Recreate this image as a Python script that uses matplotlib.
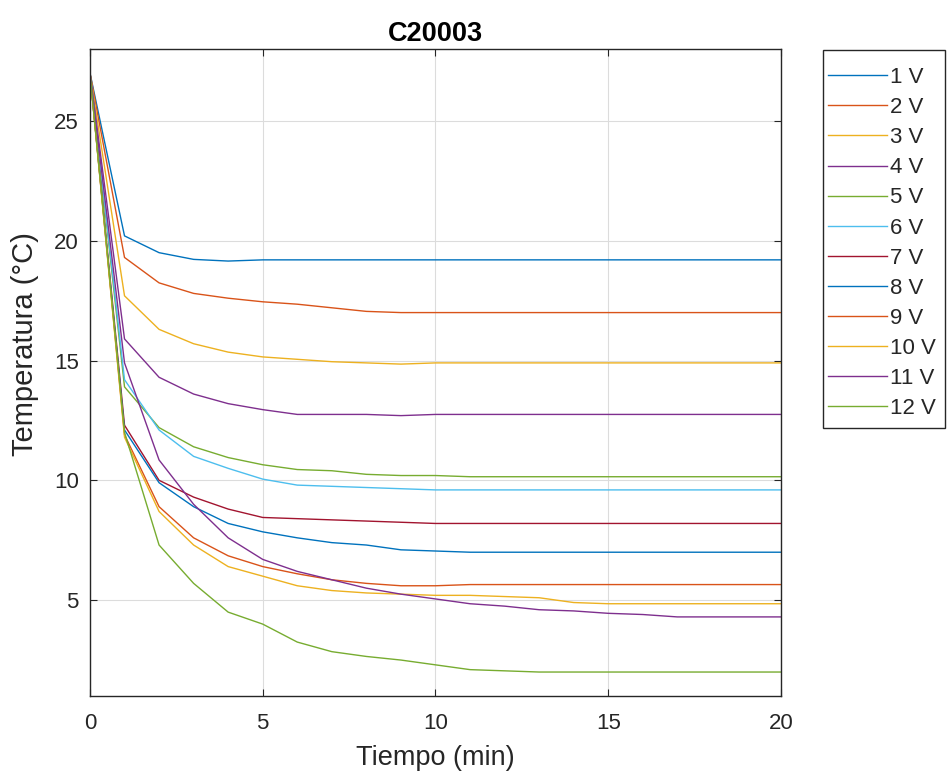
import matplotlib.pyplot as plt
from matplotlib.patches import Rectangle
import numpy as np

plt.rcParams['font.family'] = ['Liberation Sans', 'DejaVu Sans']

# time axis (min)
t = np.arange(0, 21)

# temperatures (°C), one list per voltage
v1 = [27, 20.2, 19.5, 19.22, 19.15, 19.2, 19.2, 19.2, 19.2, 19.2, 19.2,
      19.2, 19.2, 19.2, 19.2, 19.2, 19.2, 19.2, 19.2, 19.2, 19.2]
v2 = [27, 19.3, 18.24, 17.8, 17.6, 17.45, 17.35, 17.2, 17.05, 17.0, 17.0,
      17.0, 17.0, 17.0, 17.0, 17.0, 17.0, 17.0, 17.0, 17.0, 17.0]
v3 = [27, 17.7, 16.3, 15.7, 15.35, 15.15, 15.05, 14.95, 14.9, 14.85, 14.9,
      14.9, 14.9, 14.9, 14.9, 14.9, 14.9, 14.9, 14.9, 14.9, 14.9]
v4 = [27, 15.9, 14.3, 13.6, 13.2, 12.95, 12.75, 12.75, 12.75, 12.7, 12.75,
      12.75, 12.75, 12.75, 12.75, 12.75, 12.75, 12.75, 12.75, 12.75, 12.75]
v5 = [27, 13.9, 12.2, 11.4, 10.95, 10.65, 10.45, 10.4, 10.25, 10.2, 10.2,
      10.15, 10.15, 10.15, 10.15, 10.15, 10.15, 10.15, 10.15, 10.15, 10.15]
v6 = [27, 14.2, 12.1, 11.0, 10.5, 10.05, 9.8, 9.75, 9.7, 9.65, 9.6,
      9.6, 9.6, 9.6, 9.6, 9.6, 9.6, 9.6, 9.6, 9.6, 9.6]
v7 = [27, 12.3, 10.0, 9.3, 8.8, 8.45, 8.4, 8.35, 8.3, 8.25, 8.2,
      8.2, 8.2, 8.2, 8.2, 8.2, 8.2, 8.2, 8.2, 8.2, 8.2]
v8 = [27, 12.1, 9.9, 8.9, 8.2, 7.85, 7.6, 7.4, 7.3, 7.1, 7.05,
      7.0, 7.0, 7.0, 7.0, 7.0, 7.0, 7.0, 7.0, 7.0, 7.0]
v9 = [27, 11.9, 8.9, 7.6, 6.85, 6.4, 6.1, 5.85, 5.7, 5.6, 5.6,
      5.65, 5.65, 5.65, 5.65, 5.65, 5.65, 5.65, 5.65, 5.65, 5.65]
v10 = [27, 11.8, 8.7, 7.3, 6.4, 6.0, 5.6, 5.4, 5.3, 5.25, 5.2,
       5.2, 5.15, 5.1, 4.9, 4.85, 4.85, 4.85, 4.85, 4.85, 4.85]
v11 = [27, 14.9, 10.85, 9.0, 7.6, 6.7, 6.2, 5.85, 5.5, 5.25, 5.05,
       4.85, 4.75, 4.6, 4.55, 4.45, 4.4, 4.3, 4.3, 4.3, 4.3]
v12 = [27, 12.0, 7.3, 5.7, 4.5, 4.0, 3.25, 2.85, 2.65, 2.5, 2.3,
       2.1, 2.05, 2.0, 2.0, 2.0, 2.0, 2.0, 2.0, 2.0, 2.0]

series = [v1, v2, v3, v4, v5, v6, v7, v8, v9, v10, v11, v12]
labels = ['1 V', '2 V', '3 V', '4 V', '5 V', '6 V', '7 V', '8 V', '9 V',
          '10 V', '11 V', '12 V']
colors = ['#0072BD', '#D95319', '#EDB120', '#7E2F8E', '#77AC30', '#4DBEEE',
          '#A2142F']

fig = plt.figure(figsize=(9.48, 7.8), dpi=100)
ax = fig.add_axes([0.0949, 0.1077, 0.7289, 0.8295])

for i, (y, lab) in enumerate(zip(series, labels)):
    ax.plot(t, y, color=colors[i % len(colors)], lw=1.0, label=lab)

ax.set_xlim(0, 20)
ax.set_ylim(1, 28)
ax.set_xticks([0, 5, 10, 15, 20])
ax.set_yticks([5, 10, 15, 20, 25])
ax.grid(True, color='#dcdcdc', lw=0.8)
ax.set_axisbelow(True)
ax.tick_params(direction='in', top=True, right=True, labelsize=16,
               colors='#262626', length=5)
ax.tick_params(axis='x', pad=12.5)
ax.tick_params(axis='y', pad=8)
for s in ax.spines.values():
    s.set_color('#262626')
    s.set_linewidth(1.0)

ax.set_title('C20003', fontsize=19.5, fontweight='bold', pad=6)
ax.set_xlabel('Tiempo (min)', fontsize=19.5, color='#262626')
ax.xaxis.set_label_coords(0.5, -0.0757)
ax.set_ylabel('Temperatura (°C)', fontsize=21, color='#262626')
ax.yaxis.set_label_coords(-0.0738, 0.544)

# legend box drawn as a separate frame (MATLAB style padding)
leg = ax.legend(loc='upper left', bbox_to_anchor=(828 / 948, 1 - 67 / 780),
                bbox_transform=fig.transFigure, fontsize=16, frameon=False,
                handlelength=2.66, handletextpad=0.12, labelspacing=0.41,
                borderpad=0, borderaxespad=0, labelcolor='#262626')
fig.patches.append(Rectangle((823 / 948, 1 - 428 / 780), 122 / 948,
                             378 / 780, transform=fig.transFigure,
                             facecolor='none', edgecolor='#262626',
                             lw=1.0, zorder=0))

fig.savefig('out.png', dpi=100)
